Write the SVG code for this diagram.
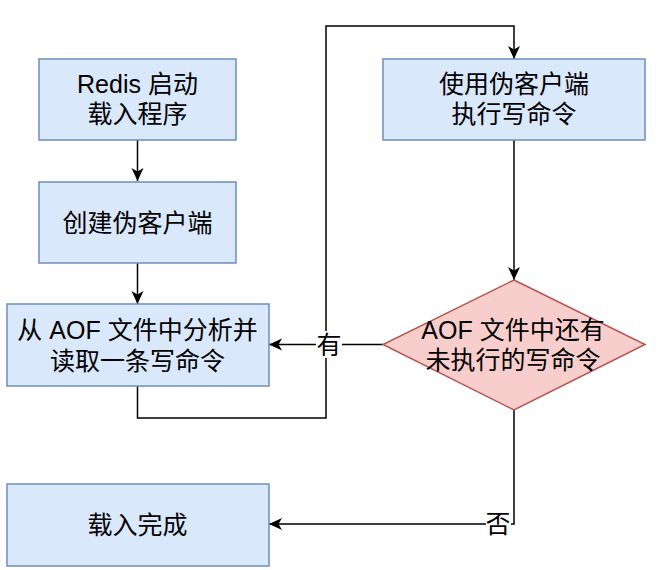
<svg xmlns="http://www.w3.org/2000/svg" width="660" height="570" viewBox="0 0 660 570">
<style>
.box{fill:#dae8fc;stroke:#6c8ebf;stroke-width:1.5}
.dia{fill:#f8cecc;stroke:#b85450;stroke-width:1.5}
.t{font-family:"Liberation Sans","Noto Sans CJK SC",sans-serif;font-size:25px;fill:#000;text-anchor:middle;dominant-baseline:central}
.e{fill:none;stroke:#000;stroke-width:1.5}
.lb{fill:#fff}
</style>
<defs>
<marker id="arr" markerUnits="userSpaceOnUse" markerWidth="14" markerHeight="14" viewBox="0 0 14 14" refX="13" refY="7" orient="auto">
<path d="M0,1 L13,7 L0,13 L3.5,7 z" fill="#000"/>
</marker>
</defs>
<rect width="660" height="570" fill="#fff"/>
<g id="connectors">
<path class="e" d="M137.5,140 V181" marker-end="url(#arr)"/>
<path class="e" d="M137.5,263 V304" marker-end="url(#arr)"/>
<path class="e" d="M137.5,386 V418 H326 V26 H514 V59" marker-end="url(#arr)"/>
<path class="e" d="M514,140 V280" marker-end="url(#arr)"/>
<path class="e" d="M383,344.5 H269" marker-end="url(#arr)"/>
<rect class="lb" x="316" y="331" width="26" height="27"/>
<text class="t" x="329" y="344.5">有</text>
<path class="e" d="M514,410 V524 H269" marker-end="url(#arr)"/>
<rect class="lb" x="486" y="511" width="25" height="26"/>
<text class="t" x="498" y="524">否</text>
</g>
<g id="n1">
<rect class="box" x="39" y="59" width="197" height="81"/>
<text class="t" x="137.5" y="84">Redis 启动</text>
<text class="t" x="137.5" y="114">载入程序</text>
</g>
<g id="n2">
<rect class="box" x="39" y="182" width="197" height="81"/>
<text class="t" x="137.5" y="222.5">创建伪客户端</text>
</g>
<g id="n3">
<rect class="box" x="7" y="304" width="262" height="82"/>
<text class="t" x="137.5" y="330">从 AOF 文件中分析并</text>
<text class="t" x="137.5" y="361">读取一条写命令</text>
</g>
<g id="n4">
<rect class="box" x="383" y="59" width="262" height="81"/>
<text class="t" x="514" y="84">使用伪客户端</text>
<text class="t" x="514" y="114">执行写命令</text>
</g>
<g id="n5">
<polygon class="dia" points="514,280 645,344.5 514,410 383,344.5"/>
<text class="t" x="513" y="330">AOF 文件中还有</text>
<text class="t" x="513" y="360">未执行的写命令</text>
</g>
<g id="n6">
<rect class="box" x="7" y="484" width="262" height="82"/>
<text class="t" x="137.5" y="525">载入完成</text>
</g>
</svg>
